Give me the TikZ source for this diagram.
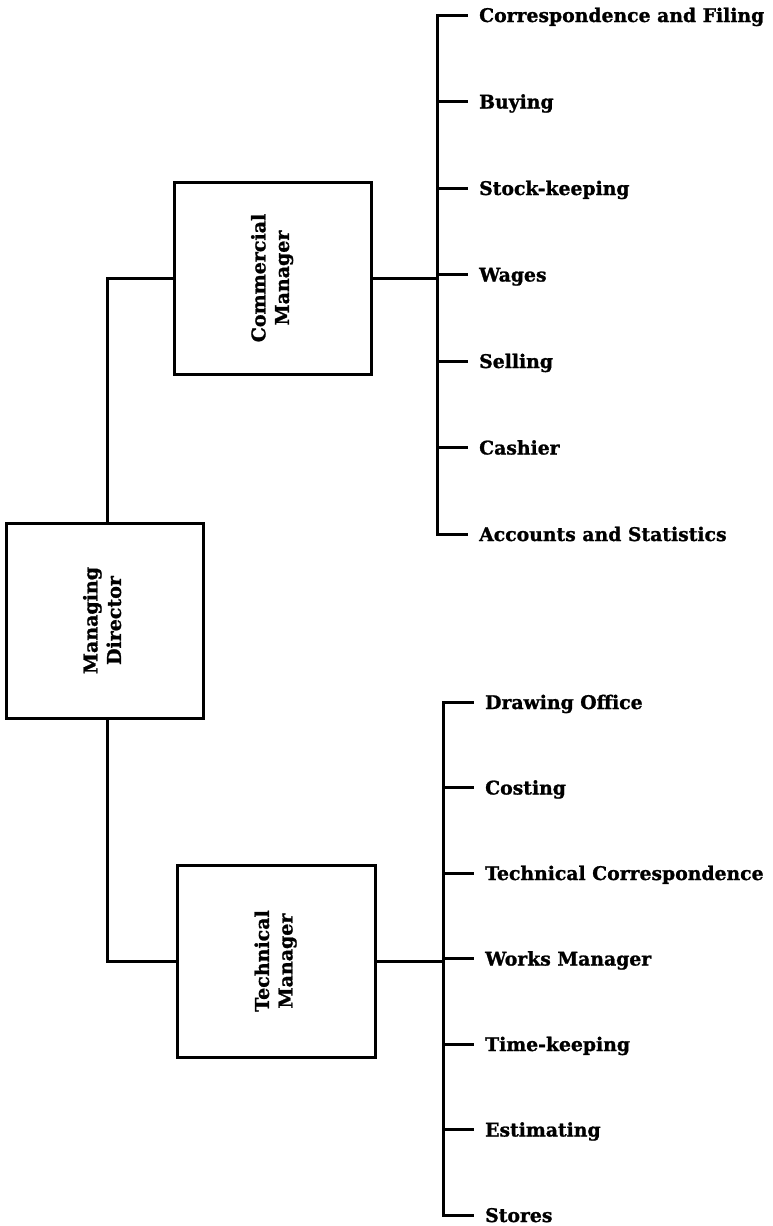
\documentclass[tikz,border=0pt]{standalone}
\usepackage{fontspec}
\setmainfont{DejaVu Serif}[BoldFeatures={FakeBold=1.2}]
\usepackage{graphicx}
\begin{document}
\begin{tikzpicture}[x=1pt,y=1pt,
  conn/.style={line width=3pt, line join=miter, line cap=rect},
  boxnode/.style={draw, line width=3pt, inner sep=0pt,
    font=\fontsize{19}{23.5}\selectfont\bfseries},
  item/.style={anchor=west, inner sep=0pt, text height=14pt, text depth=0pt,
    font=\fontsize{18.8}{23}\selectfont\bfseries}]
\useasboundingbox (0,0) rectangle (772,-1226);

% boxes
\node[boxnode, minimum width=197pt, minimum height=195pt] (md) at (104.5,-620.5)
  {\rotatebox{90}{\begin{tabular}{@{}c@{}}Managing\\Director\end{tabular}}};
\node[boxnode, minimum width=197pt, minimum height=192pt] (cm) at (272.5,-278)
  {\rotatebox{90}{\begin{tabular}{@{}c@{}}Commercial\\Manager\end{tabular}}};
\node[boxnode, minimum width=198pt, minimum height=192pt] (tm) at (276,-961)
  {\rotatebox{90}{\begin{tabular}{@{}c@{}}Technical\\Manager\end{tabular}}};

% bus coordinates
\coordinate (cbus) at (437,0);
\coordinate (tbus) at (443,0);

% commercial items
\node[item] (c1) at (479,-15)    {Correspondence and Filing};
\node[item] (c2) at (479,-101.5) {Buying};
\node[item] (c3) at (479,-188)   {Stock-keeping};
\node[item] (c4) at (479,-274.5) {Wages};
\node[item] (c5) at (479,-361)   {Selling};
\node[item] (c6) at (479,-447.5) {Cashier};
\node[item] (c7) at (479,-534)   {Accounts and Statistics};

% technical items
\node[item] (t1) at (485,-702)    {Drawing Office};
\node[item] (t2) at (485,-787.5)  {Costing};
\node[item] (t3) at (485,-873)    {Technical Correspondence};
\node[item] (t4) at (485,-958.5)  {Works Manager};
\node[item] (t5) at (485,-1044)   {Time-keeping};
\node[item] (t6) at (485,-1129.5) {Estimating};
\node[item] (t7) at (485,-1215)   {Stores};

% connectors from managing director
\draw[conn] ([xshift=2.5pt]md.north) |- (cm.west);
\draw[conn] ([xshift=3pt]md.south) |- (tm.west);

% manager to bus
\draw[conn] (cm.east) -- (cm.east -| cbus);
\draw[conn] (tm.east) -- (tm.east -| tbus);

% commercial bus
\draw[conn] ([xshift=-13pt]c1.west) -- (c1.west -| cbus) -- (c7.west -| cbus) -- ([xshift=-13pt]c7.west);
\foreach \n in {c2,c3,c4,c5,c6}
  \draw[conn] (\n.west -| cbus) -- ([xshift=-13pt]\n.west);

% technical bus
\draw[conn] ([xshift=-13pt]t1.west) -- (t1.west -| tbus) -- (t7.west -| tbus) -- ([xshift=-13pt]t7.west);
\foreach \n in {t2,t3,t4,t5,t6}
  \draw[conn] (\n.west -| tbus) -- ([xshift=-13pt]\n.west);
\end{tikzpicture}
\end{document}
